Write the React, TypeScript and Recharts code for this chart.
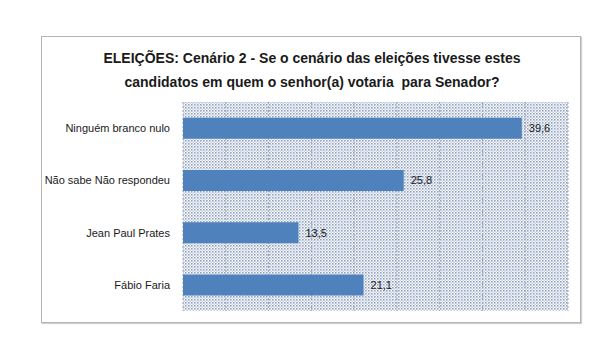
import React from "react";
import { BarChart, Bar, XAxis, YAxis, CartesianGrid, LabelList } from "recharts";

const categories = ["Ninguém branco nulo", "Não sabe Não respondeu", "Jean Paul Prates", "Fábio Faria"];
const values = [39.6, 25.8, 13.5, 21.1];
const xTicks = [0, 5, 10, 15, 20, 25, 30, 35, 40, 45];
const titleLines = [
  "ELEIÇÕES: Cenário 2 - Se o cenário das eleições tivesse estes",
  "candidatos em quem o senhor(a) votaria  para Senador?",
];

const data = categories.map((c, i) => ({ name: c, value: values[i] }));
const FONT = "'Liberation Sans', Arial, sans-serif";

export default function App() {
  return (
    <div style={{ position: "relative", width: 588, height: 342, fontFamily: FONT }}>
      <div
        style={{
          position: "absolute",
          left: 33,
          top: 28,
          width: 538,
          height: 285,
          border: "1px solid #b4b4b4",
          boxShadow: "1px 1px 1px #d0d0d0",
          background: "#fff",
        }}
      />
      <div
        style={{
          position: "absolute",
          left: 34,
          top: 38,
          width: 540,
          textAlign: "center",
          fontFamily: FONT,
          fontWeight: "bold",
          fontSize: 14,
          lineHeight: "24px",
          color: "#1a1a1a",
          whiteSpace: "pre",
        }}
      >
        {titleLines.map((l, i) => (
          <div key={i}>{l}</div>
        ))}
      </div>
      <div style={{ position: "absolute", left: 0, top: 0 }}>
        <BarChart
          width={588}
          height={342}
          data={data}
          layout="vertical"
          margin={{ top: 94, right: 28, bottom: 39, left: 5 }}
          barCategoryGap="30%"
        >
          <defs>
            <pattern id="dots" width="3" height="3" patternUnits="userSpaceOnUse">
              <rect x="0" y="0" width="3" height="3" fill="#ffffff" />
              <rect x="0" y="0" width="1.6" height="1.6" fill="#8d9fc0" />
              <rect x="1.5" y="1.5" width="1.5" height="1.5" fill="#c5cfe0" />
            </pattern>
          </defs>
          <CartesianGrid
            horizontal={false}
            fill="url(#dots)"
            fillOpacity={1}
            stroke="#9aa3b5"
            strokeDasharray="2 2"
          />
          <XAxis type="number" domain={[0, 45]} ticks={xTicks} hide />
          <YAxis
            type="category"
            dataKey="name"
            width={170}
            axisLine={false}
            tickLine={false}
            tickMargin={7}
            tick={{ fill: "#1a1a1a", fontSize: 11, fontFamily: FONT }}
          />
          <Bar dataKey="value" fill="#4f81bd" isAnimationActive={false}>
            <LabelList
              dataKey="value"
              position="right"
              offset={7}
              formatter={(v: any) => String(v).replace(".", ",")}
              style={{ fill: "#1a1a1a", fontSize: 11, fontFamily: FONT }}
            />
          </Bar>
        </BarChart>
      </div>
    </div>
  );
}
